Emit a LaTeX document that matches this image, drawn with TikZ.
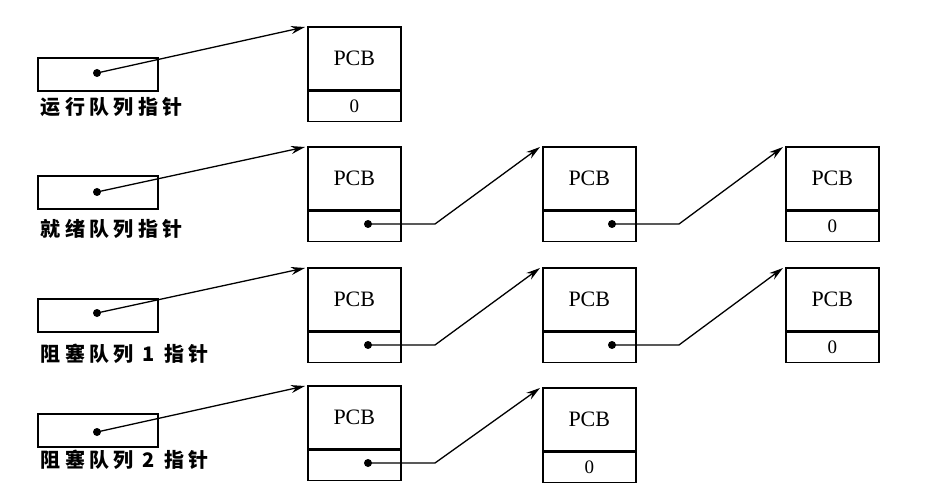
\documentclass[tikz,border=0pt]{standalone}
\usepackage{fontspec}
\setmainfont{Liberation Serif}
\newfontfamily\cjk[LetterSpace=22]{Noto Sans CJK SC}
\usetikzlibrary{arrows.meta}
\begin{document}
\begin{tikzpicture}[x=1pt,y=-1pt, line width=1.6pt,
  pcbtop/.style={draw, minimum width=93pt, minimum height=63pt, anchor=north west, inner sep=0pt, font=\fontsize{22}{22}\selectfont},
  pcbbot/.style={draw, minimum width=93pt, minimum height=30pt, anchor=north, inner sep=0pt, font=\fontsize{19}{19}\selectfont},
  ptrbox/.style={draw, minimum width=120pt, minimum height=33pt, anchor=north west, inner sep=0pt},
  lbl/.style={anchor=west, inner sep=0pt, font=\cjk\bfseries\fontsize{20}{20}\selectfont},
  arr/.style={-{Stealth[length=14pt,width=8pt]}, line width=1.3pt},
  dotc/.style={fill, circle, inner sep=0pt, minimum size=8pt}]
\useasboundingbox (0,0) rectangle (940,497);

% ---------- row 1 ----------
\node[ptrbox] (p1) at (37,57) {};
\node[dotc] (d1) at (97,73) {};
\node[lbl] (l1) at (40,107) {运行队列指针};
\node[pcbtop] (a1) at (307,26) {PCB};
\node[pcbbot] (a1b) at (a1.south) {0};
\draw[arr] (d1.center) -- ([xshift=-2pt,yshift=-1pt]a1.north west);

% ---------- row 2 ----------
\node[ptrbox] (p2) at (37,175) {};
\node[dotc] (d2) at (97,192) {};
\node[lbl] (l2) at (40,229) {就绪队列指针};
\node[pcbtop] (a2) at (307,146) {PCB};
\node[pcbbot] (a2b) at (a2.south) {};
\node[pcbtop] (b2) at (542,146) {PCB};
\node[pcbbot] (b2b) at (b2.south) {};
\node[pcbtop] (c2) at (785,146) {PCB};
\node[pcbbot] (c2b) at (c2.south) {0};
\node[dotc] (a2d) at (368,224) {};
\node[dotc] (b2d) at (612,224) {};
\coordinate (a2k) at (435,224);
\coordinate (b2k) at (679,224);
\draw[arr] (d2.center) -- ([xshift=-2pt,yshift=-1pt]a2.north west);
\draw[arr] (a2d.center) -- (a2k) -- ([xshift=-2pt,yshift=-1pt]b2.north west);
\draw[arr] (b2d.center) -- (b2k) -- ([xshift=-2pt,yshift=-1pt]c2.north west);

% ---------- row 3 ----------
\node[ptrbox] (p3) at (37,298) {};
\node[dotc] (d3) at (97,313) {};
\node[lbl] (l3) at (40,354) {阻塞队列 1 指针};
\node[pcbtop] (a3) at (307,267) {PCB};
\node[pcbbot] (a3b) at (a3.south) {};
\node[pcbtop] (b3) at (542,267) {PCB};
\node[pcbbot] (b3b) at (b3.south) {};
\node[pcbtop] (c3) at (785,267) {PCB};
\node[pcbbot] (c3b) at (c3.south) {0};
\node[dotc] (a3d) at (368,345) {};
\node[dotc] (b3d) at (612,345) {};
\coordinate (a3k) at (435,345);
\coordinate (b3k) at (679,345);
\draw[arr] (d3.center) -- ([xshift=-2pt,yshift=-1pt]a3.north west);
\draw[arr] (a3d.center) -- (a3k) -- ([xshift=-2pt,yshift=-1pt]b3.north west);
\draw[arr] (b3d.center) -- (b3k) -- ([xshift=-2pt,yshift=-1pt]c3.north west);

% ---------- row 4 ----------
\node[ptrbox] (p4) at (37,413) {};
\node[dotc] (d4) at (97,432) {};
\node[lbl] (l4) at (40,460) {阻塞队列 2 指针};
\node[pcbtop] (a4) at (307,385) {PCB};
\node[pcbbot] (a4b) at (a4.south) {};
\node[pcbtop] (b4) at (542,387) {PCB};
\node[pcbbot] (b4b) at (b4.south) {0};
\node[dotc] (a4d) at (368,463) {};
\coordinate (a4k) at (435,463);
\draw[arr] (d4.center) -- ([xshift=-2pt,yshift=-1pt]a4.north west);
\draw[arr] (a4d.center) -- (a4k) -- ([xshift=-2pt,yshift=-1pt]b4.north west);
\end{tikzpicture}
\end{document}
